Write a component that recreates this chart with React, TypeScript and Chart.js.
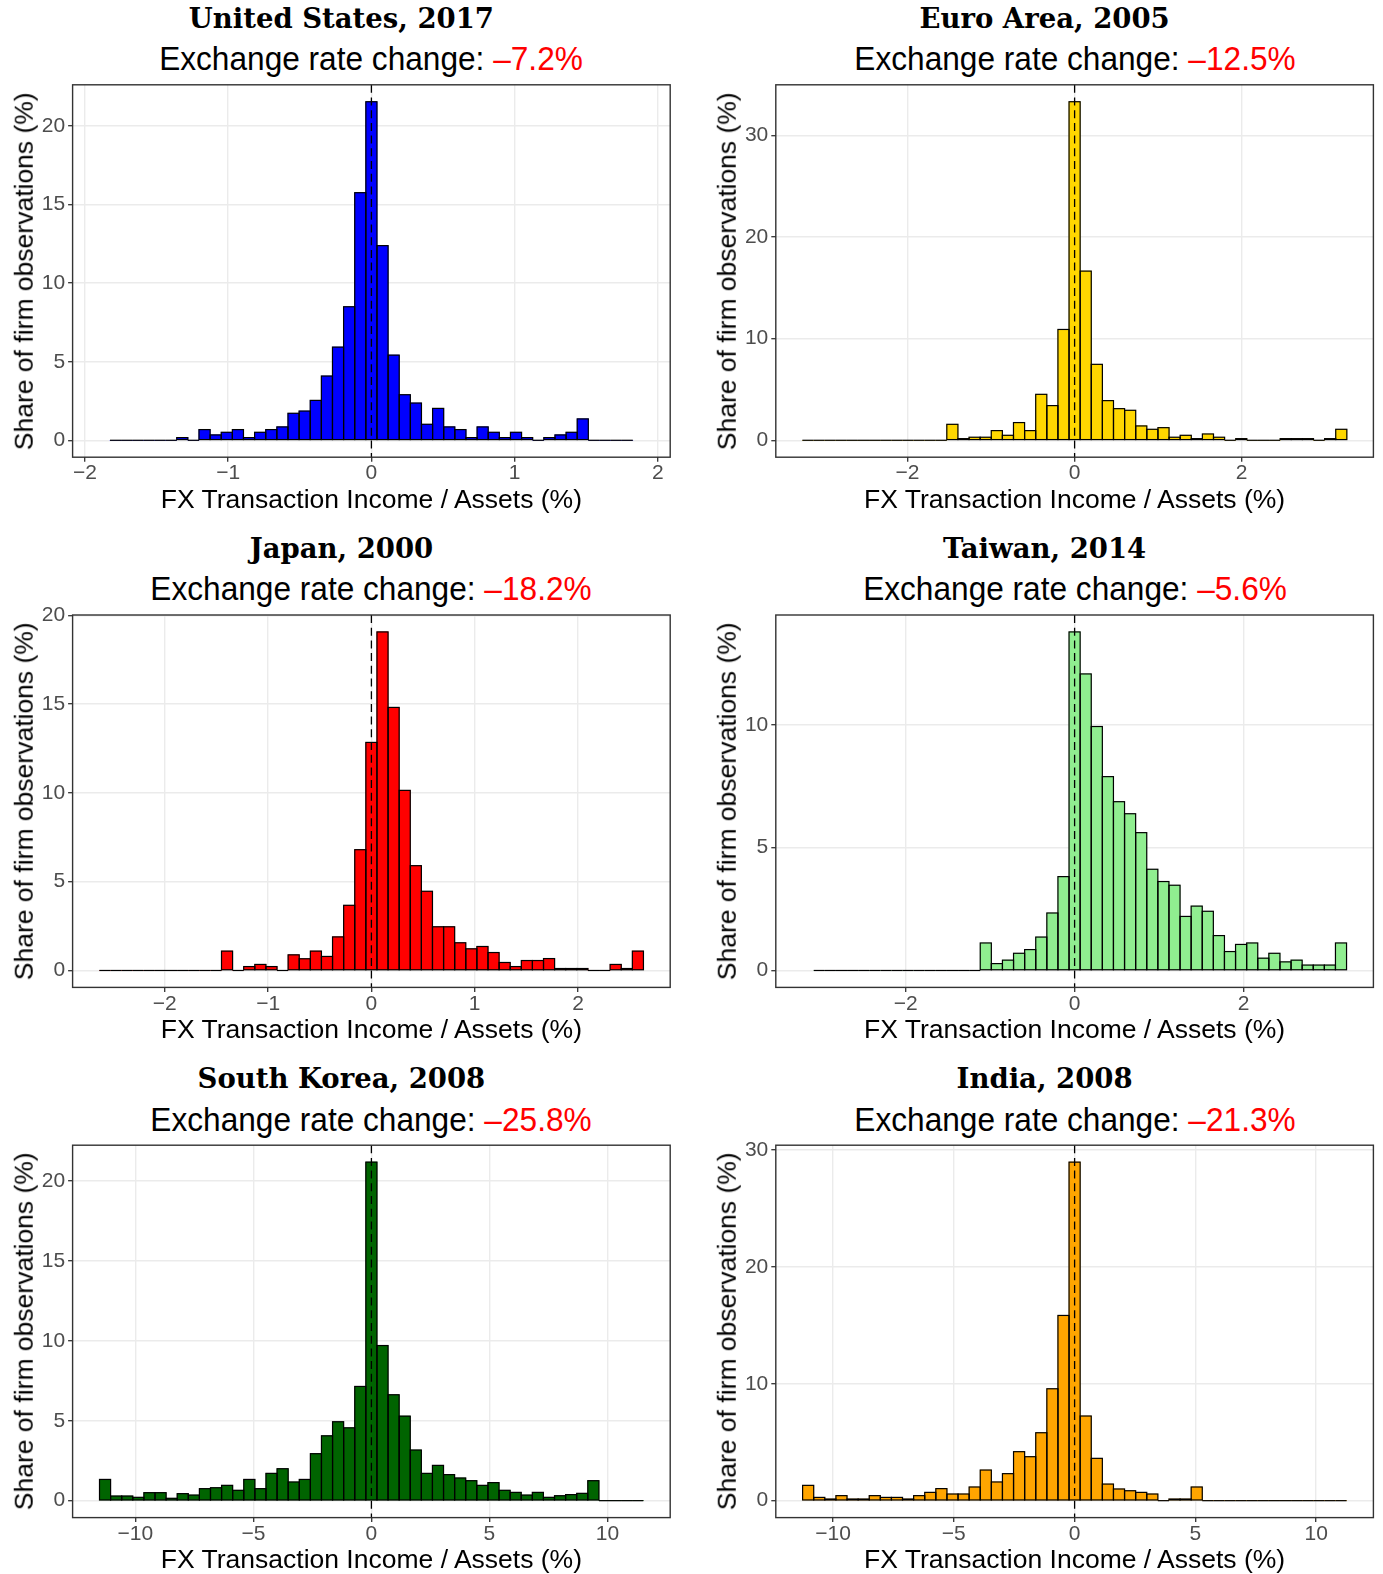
import React, { useEffect, useRef } from "react";
import { Chart, registerables } from "chart.js";

Chart.register(...registerables);

// ---------- panel content ----------
const PANEL_TITLES = [
  "United States, 2017",
  "Euro Area, 2005",
  "Japan, 2000",
  "Taiwan, 2014",
  "South Korea, 2008",
  "India, 2008",
];
const RATE_CHANGES = ["\u20137.2%", "\u201312.5%", "\u201318.2%", "\u20135.6%", "\u201325.8%", "\u201321.3%"];
const FILL_COLORS = ["#0000FF", "#FFD700", "#FF0000", "#90EE90", "#006400", "#FFA500"];
const X_AXIS_TITLE = "FX Transaction Income / Assets (%)";
const Y_AXIS_TITLE = "Share of firm observations (%)";

// share of firms (%) in each bin, left to right
const US_SHARES = [
  0, 0, 0, 0, 0, 0, 0.17, 0, 0.68, 0.34, 0.51, 0.68, 0.17, 0.51, 0.68, 0.85, 1.72, 1.86, 2.54, 4.09,
  5.93, 8.5, 15.76, 21.55, 12.39, 5.42, 2.9, 2.37, 1.02, 2.03, 0.85, 0.68, 0.17, 0.85, 0.51, 0.17,
  0.51, 0.17, 0, 0.17, 0.34, 0.51, 1.36, 0, 0, 0, 0,
];
const EURO_SHARES = [
  0, 0, 0, 0, 0, 0, 0, 0, 0, 0, 0, 0, 0, 1.57, 0.16, 0.3, 0.3, 0.95, 0.49, 1.74, 0.95, 4.52, 3.41,
  10.9, 33.3, 16.64, 7.47, 3.9, 3.11, 2.95, 1.41, 1.08, 1.24, 0.3, 0.49, 0.16, 0.62, 0.3, 0, 0.16, 0,
  0, 0, 0.16, 0.16, 0.16, 0, 0.16, 1.08,
];
const JAPAN_SHARES = [
  0, 0, 0, 0, 0, 0, 0, 0, 0, 0, 0, 1.09, 0, 0.22, 0.34, 0.22, 0, 0.88, 0.66, 1.09, 0.79, 1.89, 3.67,
  6.8, 12.84, 19.06, 14.81, 10.14, 5.9, 4.46, 2.46, 2.46, 1.56, 1.22, 1.35, 1.01, 0.45, 0.22, 0.56,
  0.56, 0.67, 0.11, 0.11, 0.11, 0, 0, 0.34, 0.11, 1.09,
];
const TAIWAN_SHARES = [
  0, 0, 0, 0, 0, 0, 0, 0, 0, 0, 0, 0, 0, 0, 0, 1.12, 0.28, 0.42, 0.7, 0.85, 1.36, 2.34, 3.82, 13.78,
  12.07, 9.93, 7.89, 6.87, 6.38, 5.61, 4.12, 3.62, 3.47, 2.2, 2.62, 2.41, 1.42, 0.77, 1.06, 1.12, 0.5,
  0.7, 0.35, 0.42, 0.22, 0.22, 0.22, 1.12,
];
const KOREA_SHARES = [
  1.33, 0.29, 0.29, 0.21, 0.5, 0.5, 0.15, 0.44, 0.35, 0.75, 0.81, 0.96, 0.65, 1.33, 0.75, 1.71, 2.0,
  1.17, 1.33, 2.94, 4.06, 4.94, 4.56, 7.15, 21.19, 9.71, 6.63, 5.29, 3.17, 1.71, 2.21, 1.63, 1.42,
  1.25, 0.96, 1.13, 0.65, 0.52, 0.35, 0.52, 0.21, 0.31, 0.38, 0.46, 1.25, 0, 0, 0, 0,
];
const INDIA_SHARES = [
  1.31, 0.28, 0.14, 0.43, 0.14, 0.14, 0.43, 0.28, 0.28, 0.14, 0.43, 0.71, 1.03, 0.57, 0.57, 1.17,
  2.62, 1.6, 2.31, 4.19, 3.76, 5.81, 9.57, 15.84, 28.95, 7.24, 3.62, 1.42, 1.0, 0.85, 0.71, 0.57, 0,
  0.14, 0.14, 1.17, 0, 0, 0, 0, 0, 0, 0, 0, 0, 0, 0, 0, 0,
];
const SHARES = [US_SHARES, EURO_SHARES, JAPAN_SHARES, TAIWAN_SHARES, KOREA_SHARES, INDIA_SHARES];

// lower edge of the first bin and the bin width, per panel
const BIN_START = [-1.825, -3.26, -2.634, -3.088, -11.52, -11.26];
const BIN_WIDTH = [0.07766, 0.13306, 0.10751, 0.1314, 0.4702, 0.45959];

// symmetric x-axis limits and tick values
const X_LIMITS = [2.086, 3.578, 2.893, 3.537, 12.66, 12.37];
const X_TICKS = [
  [-2, -1, 0, 1, 2],
  [-2, 0, 2],
  [-2, -1, 0, 1, 2],
  [-2, 0, 2],
  [-10, -5, 0, 5, 10],
  [-10, -5, 0, 5, 10],
];
const Y_TICKS = [
  [0, 5, 10, 15, 20],
  [0, 10, 20, 30],
  [0, 5, 10, 15, 20],
  [0, 5, 10],
  [0, 5, 10, 15, 20],
  [0, 10, 20, 30],
];
const ZERO_LINE_X = 0;

// ---------- page geometry ----------
const PAGE_W = 1383;
const PAGE_H = 1574;
const BOX_LEFT = [72.6, 775.8];
const BOX_W = 597.6;
const BOX_TOP0 = 84.8;
const ROW_STEP = 530.2;
const BOX_H = 372.4;

const SANS = '"Liberation Sans", Arial, Helvetica, sans-serif';
const SERIF = '"DejaVu Serif", "Liberation Serif", serif';

const fmtTick = (v: number) => (v < 0 ? "\u2212" + Math.abs(v) : String(v));

const histogramPlugin = {
  id: "histogramDecor",
  afterDatasetsDraw(chart: any) {
    const ctx = chart.ctx;
    const meta = chart.getDatasetMeta(0);
    ctx.save();
    ctx.strokeStyle = "#000000";
    ctx.lineWidth = 1.2;
    for (const el of meta.data) {
      const p = el.getProps(["x", "y", "base", "width"], true);
      const x0 = p.x - p.width / 2;
      const top = Math.min(p.y, p.base);
      const h = Math.abs(p.base - p.y);
      if (h < 0.5) {
        ctx.beginPath();
        ctx.moveTo(x0, p.base);
        ctx.lineTo(x0 + p.width, p.base);
        ctx.stroke();
      } else {
        ctx.strokeRect(x0, top, p.width, h);
      }
    }
    const area = chart.chartArea;
    const px = chart.scales.x.getPixelForValue(ZERO_LINE_X);
    ctx.setLineDash([8, 4.7]);
    ctx.lineWidth = 1.3;
    ctx.beginPath();
    ctx.moveTo(px, area.top);
    ctx.lineTo(px, area.bottom);
    ctx.stroke();
    ctx.restore();
  },
  afterDraw(chart: any) {
    const ctx = chart.ctx;
    const a = chart.chartArea;
    ctx.save();
    ctx.strokeStyle = "#333333";
    ctx.lineWidth = 1.4;
    ctx.strokeRect(a.left, a.top, a.right - a.left, a.bottom - a.top);
    ctx.restore();
  },
};

function Panel({ index }: { index: number }) {
  const canvasRef = useRef<HTMLCanvasElement>(null);
  const col = index % 2;
  const row = Math.floor(index / 2);
  const boxLeft = BOX_LEFT[col];
  const boxTop = BOX_TOP0 + row * ROW_STEP;
  const boxRight = boxLeft + BOX_W;
  const boxBottom = boxTop + BOX_H;

  const canvasLeft = Math.round(boxLeft - 60);
  const canvasTop = Math.round(boxTop - 25);
  const canvasRight = Math.round(boxRight + 15);
  const canvasBottom = Math.round(boxBottom + 30);
  const cw = canvasRight - canvasLeft;
  const chh = canvasBottom - canvasTop;
  const yAxisW = boxLeft - canvasLeft;
  const xAxisH = canvasBottom - boxBottom;
  const padTop = boxTop - canvasTop;
  const padRight = canvasRight - boxRight;

  useEffect(() => {
    const canvas = canvasRef.current;
    if (!canvas) return;
    const shares = SHARES[index];
    const start = BIN_START[index];
    const width = BIN_WIDTH[index];
    const bins = shares.map((v, k) => ({ x: start + (k + 0.5) * width, y: v }));
    const peak = Math.max(...shares);
    const gridCommon = {
      color: "#EBEBEB",
      lineWidth: 1.4,
      drawTicks: true,
      tickLength: 4.5,
      tickColor: "#333333",
      tickWidth: 1.3,
    };
    const chart = new Chart(canvas, {
      type: "bar",
      data: {
        datasets: [
          {
            data: bins as any,
            backgroundColor: FILL_COLORS[index],
            borderWidth: 0,
            barPercentage: 1,
            categoryPercentage: 1,
          },
        ],
      },
      options: {
        animation: false,
        responsive: false,
        events: [],
        layout: { padding: { top: padTop, right: padRight, left: 0, bottom: 0 } },
        plugins: {
          legend: { display: false },
          tooltip: { enabled: false },
          title: { display: false },
        },
        scales: {
          x: {
            type: "linear",
            min: -X_LIMITS[index],
            max: X_LIMITS[index],
            offset: false,
            afterBuildTicks: (axis: any) => {
              axis.ticks = X_TICKS[index].map((value) => ({ value }));
            },
            afterFit: (axis: any) => {
              axis.height = xAxisH;
            },
            grid: { ...gridCommon, offset: false },
            border: { display: false },
            ticks: {
              font: { family: SANS, size: 21, lineHeight: 1 },
              color: "#4D4D4D",
              padding: 1.5,
              maxRotation: 0,
              autoSkip: false,
              callback: (v: any) => fmtTick(Number(v)),
            },
          },
          y: {
            type: "linear",
            min: -0.05 * peak,
            max: 1.05 * peak,
            afterBuildTicks: (axis: any) => {
              axis.ticks = Y_TICKS[index].map((value) => ({ value }));
            },
            afterFit: (axis: any) => {
              axis.width = yAxisW;
            },
            grid: gridCommon,
            border: { display: false },
            ticks: {
              font: { family: SANS, size: 21, lineHeight: 1 },
              color: "#4D4D4D",
              padding: 3,
              autoSkip: false,
              callback: (v: any) => fmtTick(Number(v)),
            },
          },
        },
      } as any,
      plugins: [histogramPlugin],
    });
    return () => chart.destroy();
  }, [index]);

  const centerX = (boxLeft + boxRight) / 2;
  const line1Size = 27.5;
  const line2Size = 34;
  const axisSize = 26.5;

  return (
    <>
      <div
        style={{
          position: "absolute",
          left: centerX - 30 - 400,
          width: 800,
          top: boxTop - 84.8 + 28.3 - 0.846 * line1Size,
          textAlign: "center",
          fontFamily: SERIF,
          fontWeight: "bold",
          fontSize: line1Size,
          lineHeight: `${line1Size}px`,
          whiteSpace: "nowrap",
          color: "#000",
        }}
      >
        {PANEL_TITLES[index]}
      </div>
      <div
        style={{
          position: "absolute",
          left: centerX - 400,
          width: 800,
          top: boxTop - 84.8 + 70 - 0.8465 * line2Size,
          textAlign: "center",
          fontFamily: SANS,
          fontSize: line2Size,
          lineHeight: `${line2Size}px`,
          whiteSpace: "nowrap",
          color: "#000",
          transform: "scaleX(0.93)",
        }}
      >
        Exchange rate change: <span style={{ color: "#FF0000" }}>{RATE_CHANGES[index]}</span>
      </div>
      <canvas
        ref={canvasRef}
        width={cw}
        height={chh}
        style={{ position: "absolute", left: canvasLeft, top: canvasTop, width: cw, height: chh }}
      />
      <div
        style={{
          position: "absolute",
          left: centerX - 400,
          width: 800,
          top: boxTop - 84.8 + 508.3 - 0.8465 * axisSize,
          textAlign: "center",
          fontFamily: SANS,
          fontSize: axisSize,
          lineHeight: `${axisSize}px`,
          whiteSpace: "nowrap",
          color: "#000",
        }}
      >
        {X_AXIS_TITLE}
      </div>
      <div
        style={{
          position: "absolute",
          left: boxLeft - 48.5 - 250,
          width: 500,
          top: (boxTop + boxBottom) / 2 - axisSize / 2,
          height: axisSize,
          textAlign: "center",
          fontFamily: SANS,
          fontSize: axisSize,
          lineHeight: `${axisSize}px`,
          whiteSpace: "nowrap",
          color: "#000",
          transform: "rotate(-90deg)",
        }}
      >
        {Y_AXIS_TITLE}
      </div>
    </>
  );
}

export default function App() {
  return (
    <div
      style={{
        position: "absolute",
        left: 0,
        top: 0,
        width: PAGE_W,
        height: PAGE_H,
        background: "#FFFFFF",
        overflow: "hidden",
      }}
    >
      {SHARES.map((_, i) => (
        <Panel key={i} index={i} />
      ))}
    </div>
  );
}
